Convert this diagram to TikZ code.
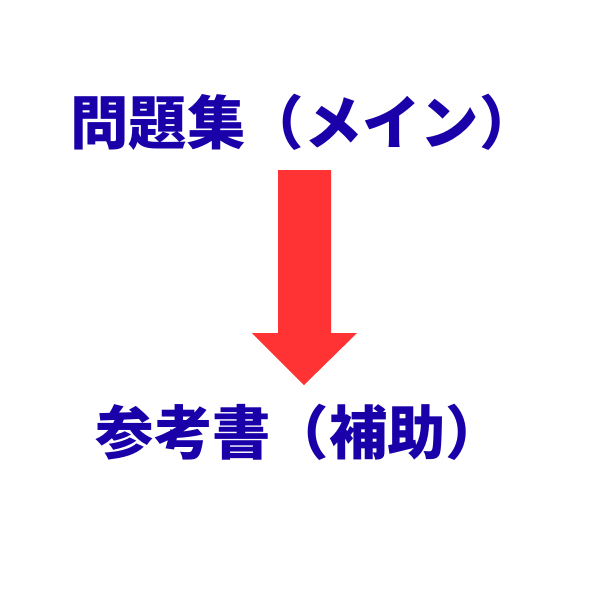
\documentclass[tikz,border=0pt]{standalone}
\usepackage{fontspec}
\newfontfamily\cjk{Noto Sans CJK JP}
\usetikzlibrary{positioning}
\definecolor{labelblue}{HTML}{1A00A8}
\definecolor{arrowred}{HTML}{FF3333}
\tikzset{
  label text/.style={text=labelblue, font=\cjk\bfseries\fontsize{16.6}{18}\selectfont, inner sep=0pt},
}
\begin{document}
\begin{tikzpicture}[x=0.01cm,y=-0.01cm]
  \useasboundingbox (0,0) rectangle (600,600);
  \node[label text] (main) at (304,122) {問題集（メイン）};
  \node[label text] (sub) at (300,432) {参考書（補助）};

  % block arrow from main to sub
  \coordinate (top) at (304,170);
  \coordinate (tip) at (304,385);
  \fill[arrowred] (278,170) -- (331,170) -- (331,333) -- (357,333)
    -- (tip) -- (252,333) -- (278,333) -- cycle;
\end{tikzpicture}
\end{document}
